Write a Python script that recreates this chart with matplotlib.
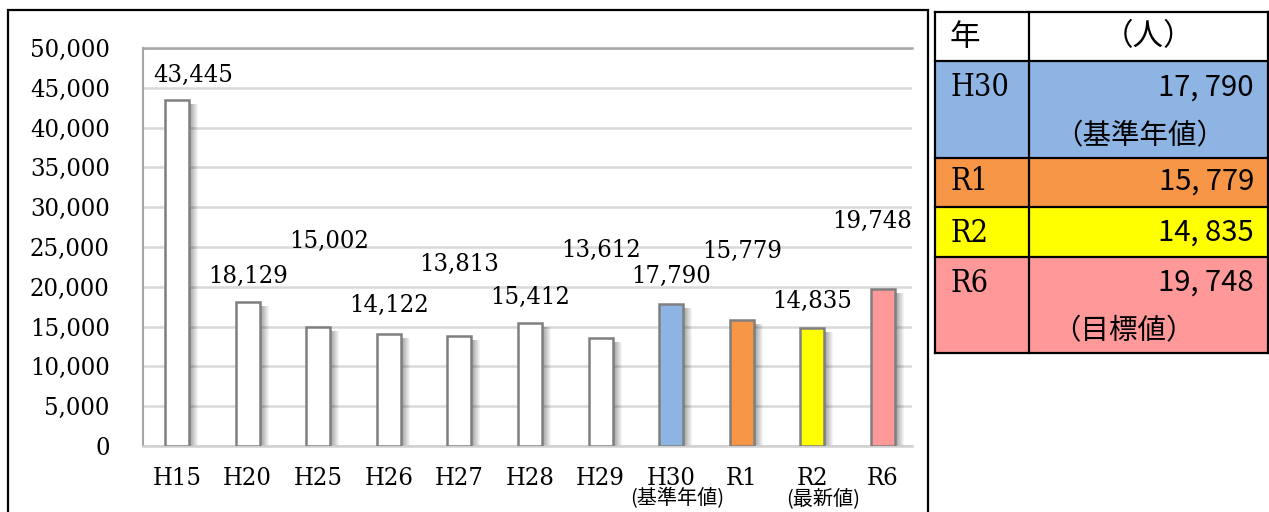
import matplotlib.pyplot as plt
from matplotlib import font_manager
from matplotlib.patches import Rectangle
from matplotlib.ticker import FuncFormatter

# 年ごとの人数
years = ["H15", "H20", "H25", "H26", "H27", "H28", "H29", "H30", "R1", "R2", "R6"]
people = [43445, 18129, 15002, 14122, 13813, 15412, 13612, 17790, 15779, 14835, 19748]
bar_colors = ["white"] * 7 + ["#8EB4E3", "#F79646", "#FFFF00", "#FF9999"]
notes = {"H30": "(基準年値)", "R2": "(最新値)"}

# where each value label sits (x shift in bar slots, y in people)
label_dx = [0.23, 0, 0.16, 0, 0, 0, 0, 0, 0, 0, -0.16]
label_y = [46600, 21350, 25750, 17600, 22850, 18700, 24600, 21250, 24500, 18200, 28150]

# side table
table_years = ["H30", "R1", "R2", "R6"]
table_people = [17790, 15779, 14835, 19748]
table_notes = ["（基準年値）", "", "", "（目標値）"]
table_colors = ["#8EB4E3", "#F79646", "#FFFF00", "#FF9999"]

W, H = 1269, 512
CJK = ["Noto Sans CJK JP", "DejaVu Sans"]


def serif(size):
    return font_manager.FontProperties(family="DejaVu Serif", stretch="condensed", size=size)


def fx(x):
    return x / W


def fy(y):
    return 1 - y / H


def main():
    fig = plt.figure(figsize=(W / 100, H / 100), dpi=100)
    ax = fig.add_axes([fx(143), fy(446), fx(912) - fx(143), fy(48) - fy(446)])

    xs = list(range(len(years)))
    px = 1 / 70.6      # one pixel in x data units
    py = 50000 / 398   # one pixel in y data units
    bw = 24 * px

    # soft shadow on the right of each bar
    for k in range(9):
        alpha = 0.38 * (1 - k / 9)
        ax.bar([x + bw / 2 + k * px for x in xs], [v - 4 * py for v in people],
               width=px, align="edge", color="black", alpha=alpha,
               linewidth=0, zorder=2)
    ax.bar(xs, people, width=bw, color=bar_colors, edgecolor="#7F7F7F",
           linewidth=1.8, zorder=3)

    for x, v, dx, ly in zip(xs, people, label_dx, label_y):
        ax.text(x + dx, ly, f"{v:,}", ha="center", va="center",
                fontproperties=serif(18.3), color="black", zorder=4)

    ax.set_xlim(-34 * px, 10 + 29 * px)
    ax.set_ylim(0, 50000)
    ax.set_yticks(range(0, 50001, 5000))
    ax.yaxis.set_major_formatter(FuncFormatter(lambda v, p: f"{int(v):,}"))
    ax.set_xticks(xs)
    ax.set_xticklabels(years)
    for lab in ax.get_xticklabels() + ax.get_yticklabels():
        lab.set_fontproperties(serif(18.3))
    ax.tick_params(axis="y", length=0, pad=24)
    ax.tick_params(axis="x", length=0, pad=15)

    ax.grid(axis="y", color="#D9D9D9", linewidth=1.8, zorder=0)
    ax.set_axisbelow(True)
    ax.spines["right"].set_visible(False)
    ax.spines["top"].set_color("#A6A6A6")
    ax.spines["top"].set_linewidth(1.8)
    ax.spines["left"].set_color("#A6A6A6")
    ax.spines["left"].set_linewidth(1.5)
    ax.spines["bottom"].set_color("#D0D0D0")
    ax.spines["bottom"].set_linewidth(1.8)

    for i, y in enumerate(years):
        if y in notes:
            shift = 0.15 if y == "R2" else 0.09
            ax.text(i + shift, -0.131, notes[y], transform=ax.get_xaxis_transform(),
                    ha="center", va="center", fontsize=14.5, family=CJK)

    # outer frame of the chart
    fig.patches.append(Rectangle((fx(8), -0.05), fx(928) - fx(8), fy(10) + 0.05,
                                 transform=fig.transFigure, fill=False,
                                 edgecolor="black", linewidth=1.6))

    # table on the right
    tl, tm, tr = 935, 1029, 1268
    rows = [12, 61, 158, 207, 257, 353]
    for (top, bot), col in zip(zip(rows[1:], rows[2:]), table_colors):
        fig.patches.append(Rectangle((fx(tl), fy(bot)), fx(tr) - fx(tl), fy(top) - fy(bot),
                                     transform=fig.transFigure, facecolor=col,
                                     edgecolor="none"))
    lw = 1.6
    for y in rows:
        fig.add_artist(plt.Line2D([fx(tl), fx(tr)], [fy(y), fy(y)], color="black",
                                  linewidth=lw, transform=fig.transFigure))
    for x in (tl, tm, tr):
        fig.add_artist(plt.Line2D([fx(x), fx(x)], [fy(rows[0]), fy(rows[-1])],
                                  color="black", linewidth=lw, transform=fig.transFigure))

    fig.text(fx(965), fy(37), "年", ha="center", va="center", fontsize=22, family=CJK)
    fig.text(fx(1148), fy(37), "（人）", ha="center", va="center", fontsize=22, family=CJK)

    first_line = [88, 182, 233, 283]
    for yr, n, note, y0 in zip(table_years, table_people, table_notes, first_line):
        fig.text(fx(950), fy(y0), yr, ha="left", va="center", fontproperties=serif(22))
        fig.text(fx(1254), fy(y0), f"{n:,}".replace(",", ", "), ha="right",
                 va="center", fontsize=21, family=CJK)
        if note:
            fig.text(fx(1140 if len(note) > 5 else 1123), fy(y0 + 48), note,
                     ha="center", va="center", fontsize=20.5, family=CJK)

    fig.savefig("out.png", dpi=100)


if __name__ == "__main__":
    main()
